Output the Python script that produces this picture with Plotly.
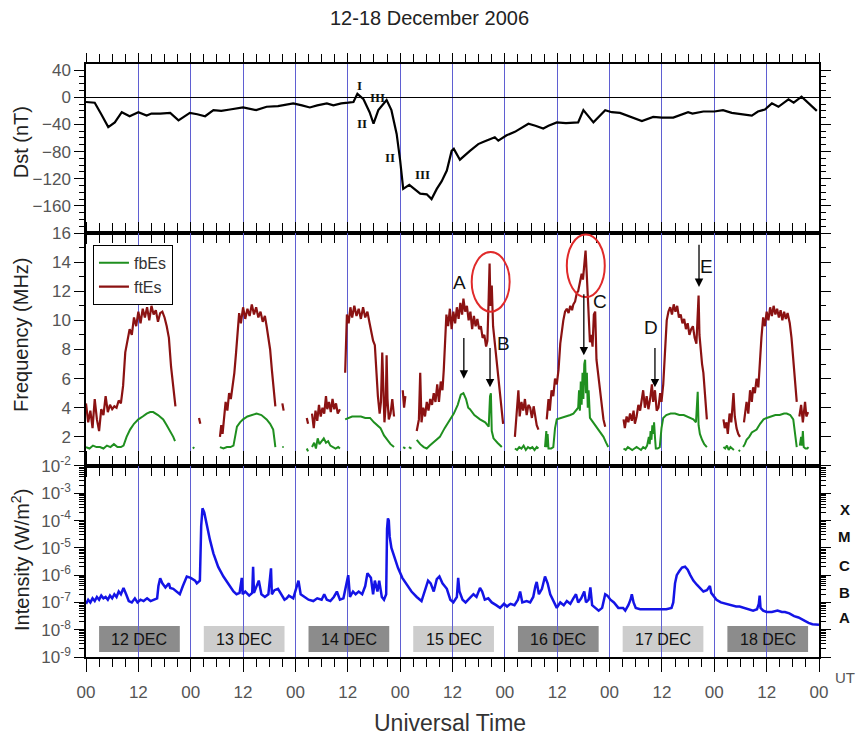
import plotly.graph_objects as go

# ---------------- data (hours since 12 Dec 2006 00 UT) ----------------
dst_points = [(0,-7),(2,-8),(3.5,-25),(5.1,-44),(6.6,-37),(8.2,-22),(10,-28),(12,-22),(13.9,-27),(15,-24),
 (17,-24),(19.3,-23),(21.2,-34),(23.8,-23),(25.5,-25),(27.3,-28),(29.2,-19),(31,-20),(33,-18),(36,-15),
 (39,-19),(41.4,-14),(44,-13),(47.5,-9),(49.5,-12),(51.3,-15),(53,-12),(55.2,-9),(56.7,-12),(58.5,-9),
 (60.1,-8),(61.3,-7),(62.2,5),(63.6,-3),(65.0,-22),(65.9,-39),(67.0,-19),(68.9,-4),(70.0,-19),(71.2,-54),
 (72.0,-93),(72.7,-135),(74.1,-129),(75.4,-136),(76.6,-142),(78.1,-143),(79.2,-150),(80.4,-135),(81.5,-124),
 (82.7,-108),(83.8,-79),(84.3,-76),(85.7,-92),(88,-79),(89.9,-69),(91,-66),(93.7,-59),(94.5,-64),(96.4,-56),
 (98.3,-51),(101.4,-39),(103,-42),(104.8,-46),(106,-42),(107.9,-37),(110,-38),(112.8,-37),(114,-19),
 (116.3,-37),(119,-19),(120.5,-22),(122.4,-23),(125,-29),(127.4,-35),(130,-29),(132,-30),(134.6,-30),
 (136,-27),(138,-22),(139,-24),(141.5,-21),(144,-21),(146,-19),(148,-23),(150,-25),(152.6,-27),(154,-21),
 (155.6,-18),(157.2,-9),(158.7,-14),(161,-3),(162.2,-8),(164,1),(165.6,-9),(167.5,-20)]

ftes_points = [
 (0,4.3),(0.5,3.0),(1,3.8),(1.5,2.6),(2,4.6),(2.5,3.2),(3,2.4),(3.5,3.9),(4,3.5),(4.5,4.8),(5,3.7),(5.5,4.2),
 (6,3.9),(6.5,4.1),(7,4.0),(7.5,4.5),(8,4.3),(8.5,5.5),(9,7.8),(9.5,8.6),(10,9.4),(10.5,9.0),(11,10.2),
 (11.5,9.6),(12,10.6),(12.5,9.8),(13,10.8),(13.5,10.2),(14,10.9),(14.5,10.0),(15,11.0),(15.5,10.4),(16,10.7),
 (16.5,9.9),(17,10.5),(17.5,10.6),(18,10.2),(18.5,9.6),(19,8.8),(19.5,6.8),(20,5.2),(20.5,4.1),(None,None),
 (25.9,3.3),(26.2,2.9),(None,None),
 (30.7,2.0),(31.0,2.8),(31.3,2.2),(31.7,3.6),(32.0,4.4),(32.4,3.8),(32.8,5.0),(33.2,4.6),(33.6,5.4),(34.0,6.4),
 (34.4,7.8),(34.8,9.4),(35.1,10.5),(35.5,9.8),(36.0,10.9),(36.5,10.1),(37.0,10.8),(37.5,10.3),(38.0,11.1),
 (38.5,10.4),(39.0,10.9),(39.5,10.2),(40.0,10.6),(40.5,9.9),(41.0,10.3),(41.4,9.6),(41.8,8.8),(42.2,8.0),
 (42.6,6.6),(43.0,5.4),(43.4,4.1),(None,None),(45.0,4.3),(45.3,3.8),(None,None),
 (50.6,3.3),(50.9,2.9),(None,None),(51.8,3.6),(52.2,2.6),(52.6,3.8),(53.0,3.1),(53.4,4.2),(53.8,3.4),
 (54.2,4.0),(54.6,3.6),(55.0,4.8),(55.3,3.9),(55.7,4.4),(56.1,3.7),(56.5,4.6),(56.9,3.9),(57.3,4.3),
 (57.7,3.6),(58.2,3.9),(None,None),
 (59.4,6.4),(59.6,9.0),(59.8,10.4),(60.2,9.8),(60.6,10.9),(61.0,10.2),(61.5,11.0),(62.0,10.3),(62.5,10.8),
 (63.0,10.1),(63.5,10.9),(64.0,10.2),(64.5,10.6),(65.0,9.8),(65.4,9.2),(65.8,8.6),(66.2,8.3),(66.6,6.0),
 (66.9,4.8),(67.3,3.6),(67.6,4.4),(67.9,7.8),(68.1,5.0),(68.4,3.0),(68.7,4.2),(68.9,7.6),(69.1,4.6),
 (69.4,3.2),(69.8,3.6),(70.2,4.6),(70.6,3.4),(None,None),
 (72.6,5.2),(72.9,4.0),(73.2,4.8),(None,None),
 (75.8,2.4),(76.3,3.2),(76.6,6.4),(76.9,3.0),(77.3,4.0),(77.7,3.4),(78.1,4.4),(78.5,3.8),(78.9,4.6),(79.3,4.2),
 (79.7,5.0),(80.1,4.4),(80.5,5.6),(80.9,4.4),(81.3,5.8),(81.7,5.2),(82.0,6.6),(82.3,8.4),(82.6,10.4),
 (83.0,9.6),(83.4,10.8),(83.8,9.4),(84.2,10.6),(84.6,9.8),(85.0,10.9),(85.4,10.1),(85.8,11.2),(86.2,10.4),
 (86.5,11.5),(86.9,10.6),(87.3,11.0),(87.7,10.0),(88.1,10.6),(88.5,9.4),(88.9,10.3),(89.3,9.6),(89.7,10.1),
 (90.1,9.4),(90.5,9.6),(90.9,8.8),(91.3,9.0),(91.7,8.2),(92.0,8.6),(92.3,11.6),(92.5,13.9),(92.7,11.0),
 (93.0,12.4),(93.3,9.6),(93.7,8.4),(94.1,7.2),(94.5,6.0),(94.9,5.0),(95.3,3.8),(95.6,2.9),(None,None),
 (98.3,2.0),(98.7,3.6),(99.1,5.2),(99.4,3.4),(99.8,4.4),(100.2,3.8),(100.6,4.6),(101.0,3.5),(101.4,4.2),
 (101.8,4.0),(102.2,3.3),(102.6,4.1),(102.9,3.6),(103.3,2.8),(103.7,2.5),(None,None),
 (105.6,3.2),(106.0,4.6),(106.3,3.8),(106.7,5.2),(107.1,4.8),(107.5,6.0),(107.9,5.6),(108.3,6.6),(108.7,8.4),
 (109.1,9.6),(109.4,10.0),(109.8,10.6),(110.2,10.8),(110.6,10.5),(111.0,11.0),(111.4,10.7),(111.7,11.1),
 (112.1,11.3),(112.5,11.9),(112.8,12.0),(113.2,12.6),(113.6,13.2),(113.9,12.8),(114.2,14.0),(114.5,14.8),
 (114.8,13.0),(115.1,10.6),(115.5,8.5),(115.8,9.0),(116.1,8.2),(116.4,10.4),(116.7,10.6),(117.0,7.3),
 (117.4,6.2),(117.8,5.0),(118.2,4.0),(118.6,3.2),(119.0,2.7),(None,None),
 (123.2,3.2),(123.5,2.6),(123.9,3.4),(124.3,3.0),(124.7,3.6),(125.1,3.1),(125.5,3.8),(125.8,2.9),(126.2,3.4),
 (126.6,4.2),(127.0,3.8),(127.4,4.6),(127.7,5.2),(128.1,4.0),(128.5,4.8),(128.9,3.9),(129.3,4.6),(129.7,5.6),
 (130.0,4.4),(130.4,5.2),(130.8,3.8),(131.2,4.0),(131.6,5.0),(131.9,4.4),(132.3,5.6),(132.7,7.8),(133.1,10.0),
 (133.5,10.6),(133.9,10.9),(134.3,10.4),(134.7,11.1),(135.1,10.6),(135.5,11.0),(135.9,10.2),(136.3,10.4),
 (136.7,9.8),(137.1,10.1),(137.5,9.4),(137.9,9.8),(138.3,9.0),(138.7,9.4),(139.1,9.6),(139.5,8.8),(139.9,8.4),
 (140.2,10.2),(140.4,11.7),(140.6,9.0),(140.9,7.6),(141.2,7.0),(141.5,6.4),(141.9,5.0),(142.3,3.2),(None,None),
 (146.1,3.2),(146.4,2.6),(146.8,3.0),(147.1,2.2),(147.5,3.6),(147.9,3.0),(148.2,4.2),(148.4,5.0),(148.7,3.4),
 (149.1,2.6),(149.5,2.2),(149.9,2.0),(None,None),
 (150.8,3.0),(151.1,3.8),(151.4,4.4),(151.8,3.6),(152.2,5.2),(152.6,4.4),(152.9,5.4),(153.3,5.0),(153.7,6.0),
 (154.1,5.4),(154.5,7.8),(154.8,8.8),(155.2,10.2),(155.6,9.6),(156.0,10.6),(156.4,10.0),(156.8,10.9),
 (157.2,10.3),(157.6,11.0),(158.0,10.4),(158.4,10.8),(158.8,10.2),(159.2,10.7),(159.6,10.0),(160.0,10.6),
 (160.4,10.1),(160.8,10.5),(161.3,9.8),(161.7,8.8),(162.1,7.4),(162.5,5.6),(162.9,4.4),(None,None),
 (163.5,3.4),(163.9,4.2),(164.3,3.0),(164.8,4.4),(165.1,3.4),(165.5,3.7)]

fbes_points = [
 (0,1.3),(0.8,1.2),(1.6,1.4),(2.4,1.3),(3.2,1.3),(4.0,1.2),(4.8,1.4),(5.6,1.3),(6.4,1.5),(7.2,1.3),(8.0,1.3),
 (8.6,1.4),(9.3,2.0),(10.1,2.5),(11.0,2.9),(12.0,3.2),(13.0,3.4),(13.9,3.6),(14.7,3.7),(15.4,3.7),(16.5,3.5),
 (17.7,3.2),(18.5,2.8),(19.3,2.4),(20.0,2.0),(20.4,1.7),(None,None),
 (24.5,1.3),(24.8,1.2),(None,None),
 (30.7,1.3),(31.5,1.2),(32.3,1.3),(33.1,1.3),(33.8,1.4),(34.2,2.2),(34.6,2.7),(35.3,3.0),(36.0,3.2),(37.0,3.4),
 (38.0,3.5),(39.1,3.6),(40.2,3.5),(41.4,3.2),(42.2,2.9),(42.9,2.5),(43.2,1.8),(43.4,1.3),(None,None),
 (45.0,1.3),(45.3,1.3),(None,None),
 (50.6,1.2),(50.9,1.0),(None,None),(51.8,1.3),(52.3,1.6),(52.7,1.2),(53.1,1.9),(53.5,1.5),(54.0,1.7),
 (54.5,1.9),(55.0,1.6),(55.5,1.7),(56.0,1.4),(56.6,1.3),(57.2,1.2),(57.8,1.3),(58.2,1.2),(None,None),
 (59.4,3.2),(60.2,3.3),(61.0,3.4),(62.0,3.4),(63.0,3.4),(64.0,3.3),(65.1,3.3),(66.0,3.0),(67.5,2.6),(68.3,2.1),
 (69.1,1.8),(69.8,1.5),(70.6,1.3),(None,None),
 (72.7,1.3),(73.2,1.2),(None,None),(74.0,1.3),(74.6,1.2),(None,None),
 (75.8,1.8),(76.6,1.5),(77.4,1.3),(78.1,1.2),(78.8,1.4),(79.5,1.6),(80.3,1.8),(81.1,2.0),(82.2,2.6),(83.4,3.2),
 (84.3,3.6),(85.2,4.2),(85.9,4.9),(86.5,5.0),(87.1,4.6),(87.6,4.0),(88.0,3.9),(89.0,3.5),(90.3,3.2),(91.5,3.0),
 (92.3,2.7),(92.6,4.8),(92.8,5.0),(93.0,2.4),(93.4,1.9),(94.3,1.6),(95.3,1.3),(None,None),
 (98.3,1.2),(98.8,1.1),(99.3,1.3),(99.8,1.2),(100.3,1.4),(100.8,1.1),(101.3,1.3),(101.8,1.2),(102.3,1.3),
 (102.8,1.1),(103.3,1.3),(103.7,1.2),(None,None),
 (105.2,1.3),(105.5,2.4),(105.6,1.3),(105.8,2.2),(106.0,1.2),(106.6,1.2),(107.1,1.3),(107.5,2.6),(107.9,3.2),
 (109.0,3.3),(110.0,3.4),(111.0,3.5),(111.7,3.6),(112.3,3.8),(112.8,4.0),(113.0,5.2),(113.2,3.8),(113.4,5.8),
 (113.6,4.2),(113.8,6.4),(114.0,4.6),(114.2,7.0),(114.4,7.3),(114.6,5.0),(114.8,6.4),(115.0,4.0),(115.2,5.2),
 (115.5,3.3),(116.2,3.0),(117.0,2.7),(117.8,2.3),(118.6,2.0),(119.2,1.6),(119.7,1.3),(None,None),
 (123.2,1.2),(123.7,1.1),(124.2,1.3),(124.7,1.2),(125.2,1.1),(125.7,1.2),(126.2,1.3),(126.7,1.2),(127.2,1.1),
 (127.7,1.3),(128.2,1.2),(128.6,1.4),(129.0,2.0),(129.2,1.5),(129.4,2.4),(129.6,1.8),(129.8,2.8),(130.0,2.2),
 (130.2,3.0),(130.4,2.0),(130.6,1.2),(131.0,1.2),(131.5,1.3),(131.9,2.6),(132.3,3.3),(133.0,3.5),(134.0,3.6),
 (135.0,3.6),(136.0,3.5),(137.0,3.5),(137.7,3.4),(138.5,3.3),(139.2,3.2),(139.8,3.0),(140.0,4.2),(140.2,5.1),
 (140.4,2.8),(140.7,2.2),(141.2,1.8),(141.7,1.5),(142.3,1.3),(None,None),
 (146.1,1.3),(146.5,1.2),(146.9,1.4),(147.3,1.1),(147.7,1.3),(148.1,1.2),(148.5,1.1),(None,None),
 (149.6,1.0),(149.9,1.1),(None,None),
 (150.6,1.3),(151.0,1.5),(151.4,1.8),(152.0,2.0),(152.6,2.3),(153.2,2.4),(153.7,2.5),(154.5,2.9),(155.3,3.2),
 (156.0,3.3),(157.0,3.4),(158.0,3.5),(159.0,3.5),(160.0,3.6),(160.6,3.6),(161.4,3.5),(162.1,3.2),(162.5,2.0),
 (162.9,1.3),(None,None),
 (163.6,1.4),(163.9,2.0),(164.1,1.4),(164.3,2.4),(164.5,1.3),(164.9,1.2),(165.3,1.2),(165.6,1.3)]

# GOES X-ray flux, log10(W/m^2)
xray_points = [
 (0,-7.05),(0.5,-6.9),(1,-7.0),(1.5,-6.85),(2,-6.95),(2.5,-6.8),(3,-6.9),(3.5,-6.75),(4,-6.85),(4.5,-6.8),
 (5,-6.9),(5.5,-6.75),(6,-6.85),(6.5,-6.7),(7,-6.8),(7.5,-6.6),(8,-6.7),(8.6,-6.47),(9.2,-6.7),(9.8,-6.95),
 (10.5,-7.0),(11.2,-6.85),(11.8,-7.0),(12.5,-6.9),(13.2,-6.95),(14,-6.85),(14.8,-6.95),(15.6,-6.9),
 (16.3,-6.85),(16.6,-6.4),(17,-6.11),(17.5,-6.3),(18.2,-6.45),(19,-6.3),(19.3,-6.47),(20,-6.5),(20.8,-6.6),
 (21.5,-6.7),(22.2,-6.4),(23.1,-6.05),(24,-6.1),(25,-6.2),(25.4,-6.3),(26.1,-6.2),(26.4,-4.2),(26.7,-3.55),
 (27.1,-3.7),(27.7,-4.22),(28.4,-4.7),(29.2,-5.2),(30.3,-5.7),(31.5,-6.05),(32.6,-6.3),(33.8,-6.6),(34.5,-6.7),
 (35.2,-6.65),(35.7,-6.1),(35.9,-6.7),(36.5,-6.6),(37.4,-6.75),(38.1,-6.65),(38.3,-5.69),(38.5,-6.65),
 (39.2,-6.4),(39.6,-6.2),(40.2,-6.7),(41.0,-6.8),(41.8,-6.7),(42.4,-5.75),(42.6,-6.7),(43.2,-6.55),(44.0,-6.5),
 (44.8,-6.7),(45.5,-6.9),(46.0,-6.85),(46.5,-6.75),(47.5,-6.85),(48.7,-6.2),(49.2,-6.7),(50,-6.8),(51,-6.9),
 (52.1,-6.95),(53,-6.85),(54,-6.9),(54.6,-6.7),(55.2,-6.9),(56,-6.95),(56.8,-6.8),(57.5,-6.6),(58.2,-6.9),
 (59,-6.85),(60.1,-6.0),(60.5,-6.8),(61.2,-6.6),(61.8,-6.7),(62.5,-6.6),(63.3,-6.7),(64,-6.4),(64.5,-5.93),
 (65.3,-6.1),(65.8,-6.7),(66.2,-6.2),(66.8,-6.6),(67.2,-6.2),(67.8,-6.8),(68.3,-6.9),(68.8,-6.7),(69.0,-4.3),
 (69.2,-3.92),(69.4,-4.0),(69.6,-4.59),(70.0,-5.0),(70.8,-5.4),(71.5,-5.73),(72.5,-6.1),(73.3,-6.3),
 (74.6,-6.6),(75.8,-6.8),(76.9,-6.95),(77.8,-6.5),(78.4,-6.2),(79.0,-6.3),(79.7,-6.6),(80.4,-6.15),
 (81.0,-6.05),(81.7,-6.3),(82.7,-6.5),(83.5,-6.9),(84.2,-7.0),(85.0,-6.8),(85.3,-6.1),(85.6,-6.6),(86.3,-6.9),
 (87.0,-7.0),(88.0,-6.85),(88.8,-6.7),(89.5,-6.8),(90.3,-6.47),(90.8,-6.6),(91.4,-6.9),(92.2,-6.85),
 (93.0,-7.0),(94.0,-7.1),(94.9,-7.2),(95.8,-7.05),(96.5,-7.15),(97.3,-7.05),(98.2,-7.1),(99.0,-6.9),
 (99.5,-6.6),(100.0,-7.0),(101.0,-6.95),(101.8,-7.0),(102.5,-6.8),(103.0,-6.4),(103.3,-6.25),(103.8,-6.7),
 (104.5,-6.5),(105.2,-6.05),(105.8,-6.3),(106.4,-6.7),(107.2,-7.0),(107.9,-7.2),(108.7,-7.0),(109.5,-7.1),
 (110.2,-6.95),(111.0,-7.05),(111.7,-6.85),(112.3,-6.7),(112.8,-7.0),(113.5,-6.85),(114.2,-6.6),(114.6,-7.0),
 (115.2,-6.9),(115.6,-6.45),(116.0,-7.1),(116.8,-7.2),(117.5,-7.3),(118.3,-7.2),(119.0,-6.7),(119.5,-6.75),
 (120.2,-6.9),(121.0,-7.0),(122.0,-7.2),(123.1,-7.2),(123.6,-7.3),(124.3,-7.1),(124.8,-6.9),(125.1,-6.7),
 (125.5,-7.0),(126.0,-7.2),(127.0,-7.25),(128.5,-7.25),(130.0,-7.25),(131.5,-7.25),(133.0,-7.25),
 (134.2,-7.2),(134.6,-7.0),(135.0,-6.3),(135.4,-6.0),(136.0,-5.85),(136.6,-5.72),(137.3,-5.69),(137.9,-5.8),
 (138.5,-6.0),(139.2,-6.2),(140.0,-6.35),(140.8,-6.5),(141.5,-6.6),(142.3,-6.55),(143.0,-6.4),(143.3,-6.65),
 (144.0,-6.8),(144.5,-6.9),(145.5,-7.0),(146.8,-7.05),(148.0,-7.1),(149.0,-7.15),(149.8,-7.15),(151.0,-7.2),
 (152.0,-7.25),(152.9,-7.3),(153.8,-7.25),(154.2,-7.05),(154.4,-6.75),(154.6,-7.2),(155.2,-7.3),(156.0,-7.35),
 (157.2,-7.35),(158.5,-7.3),(159.5,-7.35),(160.2,-7.35),(161.2,-7.4),(162.3,-7.5),(163.3,-7.55),(164.4,-7.65),
 (165.6,-7.75),(166.5,-7.8),(167.5,-7.8),(168,-7.82)]

day_labels = ["12 DEC", "13 DEC", "14 DEC", "15 DEC", "16 DEC", "17 DEC", "18 DEC"]
day_shades = ["#8c8c8c", "#cdcdcd", "#8c8c8c", "#cdcdcd", "#8c8c8c", "#cdcdcd", "#8c8c8c"]
hour_tickvals = list(range(0, 169, 12))
hour_ticktext = ["00", "12"] * 7 + ["00"]
dst_tickvals = [40, 0, -40, -80, -120, -160]
freq_tickvals = [2, 4, 6, 8, 10, 12, 14, 16]
flux_exponents = [-2, -3, -4, -5, -6, -7, -8, -9]
flare_classes = ["X", "M", "C", "B", "A"]
flare_class_log = [-3.61, -4.6, -5.63, -6.62, -7.57]
event_letters = ["A", "B", "C", "D", "E"]
event_letter_pos = [(85.5, 12.6), (95.8, 8.4), (117.8, 11.3), (129.5, 9.5), (142.3, 13.7)]
event_arrows = [(86.6, 8.9, 6.0), (92.6, 8.2, 5.4), (114.1, 11.9, 7.6), (130.4, 8.2, 5.4), (140.5, 15.3, 12.3)]
circles = [(88.4, 97.1, 10.6, 14.7), (110.2, 118.9, 11.6, 15.9)]
phase_labels = ["I", "II", "III", "II", "III"]
phase_pos = [(62.6, 18), (63.3, -38), (66.7, -1), (69.7, -89), (77.2, -114)]
# vertical extent of the day-label boxes as a fraction of the bottom panel
day_box_band = (0.026, 0.162)


def unzip(pts):
    return [p[0] for p in pts], [p[1] for p in pts]


dst_h, dst_v = unzip(dst_points)
ft_h, ft_v = unzip(ftes_points)
fb_h, fb_v = unzip(fbes_points)
xr_h, xr_l = unzip(xray_points)
xr_v = [10 ** v for v in xr_l]

FONT = "Liberation Sans, Arial, sans-serif"
TICKC = "#555555"
GRID = "#5f5fd2"

fig = go.Figure()
fig.add_trace(go.Scatter(x=dst_h, y=dst_v, mode="lines", line=dict(color="black", width=2.2),
                         xaxis="x", yaxis="y", showlegend=False))
fig.add_trace(go.Scatter(x=ft_h, y=ft_v, mode="lines", name="ftEs", line=dict(color="#8b1212", width=2.2),
                         xaxis="x2", yaxis="y2", connectgaps=False))
fig.add_trace(go.Scatter(x=fb_h, y=fb_v, mode="lines", name="fbEs", line=dict(color="#1f8f1f", width=2),
                         xaxis="x2", yaxis="y2", connectgaps=False))
fig.add_trace(go.Scatter(x=xr_h, y=xr_v, mode="lines", line=dict(color="#1414e6", width=2.5),
                         xaxis="x3", yaxis="y3", showlegend=False))


def xax(anchor, labels):
    d = dict(range=[0, 168], anchor=anchor, tickvals=hour_tickvals, ticktext=hour_ticktext,
             showticklabels=labels, ticks="outside", ticklen=13 if labels else 9, tickwidth=1.3,
             tickcolor="black", showline=True, linecolor="black", linewidth=1.5, mirror="ticks",
             showgrid=True, gridcolor=GRID, gridwidth=1, zeroline=False,
             tickfont=dict(family=FONT, size=17, color=TICKC),
             minor=dict(dtick=3, tick0=0, ticks="outside", ticklen=8, tickcolor="black", tickwidth=1.2,
                        showgrid=False))
    if labels:
        d["ticklabelstandoff"] = 6
    return d


fig.update_layout(
    width=858, height=737, margin=dict(l=86, r=39, t=64, b=80),
    paper_bgcolor="white", plot_bgcolor="rgba(0,0,0,0)",
    xaxis=xax("y", False),
    xaxis2=xax("y2", False) | dict(matches="x"),
    xaxis3=xax("y3", True) | dict(matches="x"),
    yaxis=dict(domain=[0.715, 1], range=[-200, 49], tickvals=dst_tickvals, ticks="outside", ticklen=10,
               tickcolor="black", showline=True, linecolor="black", linewidth=1.5, mirror="ticks",
               showgrid=False, zeroline=True, zerolinecolor="black", zerolinewidth=1.2,
               tickfont=dict(family=FONT, size=17, color=TICKC),
               minor=dict(dtick=10, ticks="outside", ticklen=5, tickcolor="black")),
    yaxis2=dict(domain=[0.3221, 0.715], range=[0, 16], tickvals=freq_tickvals, ticks="outside", ticklen=10,
                tickcolor="black", showline=True, linecolor="black", linewidth=1.5, mirror="ticks",
                showgrid=False, zeroline=False,
                tickfont=dict(family=FONT, size=17, color=TICKC),
                minor=dict(dtick=1, ticks="outside", ticklen=5, tickcolor="black")),
    yaxis3=dict(domain=[0, 0.3221], type="log", range=[-9, -2],
                tickvals=[10 ** e for e in flux_exponents],
                ticktext=["10<sup>%d</sup>" % e for e in flux_exponents],
                ticks="outside", ticklen=10, tickcolor="black", showline=True, linecolor="black",
                linewidth=1.5, mirror="ticks", showgrid=False, zeroline=False,
                tickfont=dict(family=FONT, size=17, color=TICKC),
                minor=dict(dtick="D1", ticks="outside", ticklen=5, tickcolor="black")),
    legend=dict(x=0.0095, y=0.695, xanchor="left", yanchor="top", bgcolor="white",
                bordercolor="black", borderwidth=1, traceorder="reversed",
                font=dict(family=FONT, size=16, color="#333"), tracegroupgap=0),
)

shapes = []
for i, (lab, col) in enumerate(zip(day_labels, day_shades)):
    shapes.append(dict(type="rect", xref="x3", yref="y3 domain", x0=24 * i + 3, x1=24 * i + 21.5,
                       y0=day_box_band[0], y1=day_box_band[1], fillcolor=col, line=dict(width=0),
                       layer="below"))
for (x0, x1, y0, y1) in circles:
    shapes.append(dict(type="circle", xref="x2", yref="y2", x0=x0, x1=x1, y0=y0, y1=y1,
                       line=dict(color="#e02a2a", width=2)))
fig.update_layout(shapes=shapes)

ann = []
for i, lab in enumerate(day_labels):
    ann.append(dict(xref="x3", yref="y3 domain", x=24 * i + 12.25, y=sum(day_box_band) / 2, text=lab,
                    showarrow=False, xanchor="center", yanchor="middle",
                    font=dict(family=FONT, size=16, color="#111")))
for lab, ly in zip(flare_classes, flare_class_log):
    ann.append(dict(xref="paper", yref="y3", x=1.035, y=ly, text="<b>%s</b>" % lab, showarrow=False,
                    xanchor="center", yanchor="middle", font=dict(family=FONT, size=15, color="#111")))
for lab, (lx, ly) in zip(event_letters, event_letter_pos):
    ann.append(dict(xref="x2", yref="y2", x=lx, y=ly, text=lab, showarrow=False,
                    font=dict(family=FONT, size=19, color="#111")))
for (ax_, y_tail, y_head) in event_arrows:
    ann.append(dict(xref="x2", yref="y2", axref="x2", ayref="y2", x=ax_, y=y_head, ax=ax_, ay=y_tail,
                    text="", showarrow=True, arrowhead=2, arrowsize=1.3, arrowwidth=1.3,
                    arrowcolor="black"))
for lab, (px, py) in zip(phase_labels, phase_pos):
    ann.append(dict(xref="x", yref="y", x=px, y=py, text="<b>%s</b>" % lab, showarrow=False,
                    font=dict(family="Liberation Serif, serif", size=13, color="#111")))
ann += [
    dict(xref="paper", yref="paper", x=0.469, y=1.0776, text="12-18 December 2006", showarrow=False,
         xanchor="center", yanchor="middle", font=dict(family=FONT, size=20, color="#222")),
    dict(xref="paper", yref="paper", x=0.4966, y=-0.111, text="Universal Time", showarrow=False,
         xanchor="center", yanchor="middle", font=dict(family=FONT, size=23, color="#333")),
    dict(xref="paper", yref="paper", x=1.035, y=-0.035, text="UT", showarrow=False,
         xanchor="center", yanchor="middle", font=dict(family=FONT, size=15, color=TICKC)),
    dict(xref="paper", yref="paper", x=-0.0887, y=0.868, text="Dst (nT)", textangle=-90, showarrow=False,
         xanchor="center", yanchor="middle", font=dict(family=FONT, size=20, color="#222")),
    dict(xref="paper", yref="paper", x=-0.0887, y=0.543, text="Frequency (MHz)", textangle=-90,
         xanchor="center", yanchor="middle", showarrow=False, font=dict(family=FONT, size=20, color="#222")),
    dict(xref="paper", yref="paper", x=-0.0887, y=0.1636, text="Intensity (W/m<sup>2</sup>)",
         xanchor="center", yanchor="middle", textangle=-90, showarrow=False,
         font=dict(family=FONT, size=20, color="#222")),
]
fig.update_layout(annotations=ann)

fig.write_html("out.html")
